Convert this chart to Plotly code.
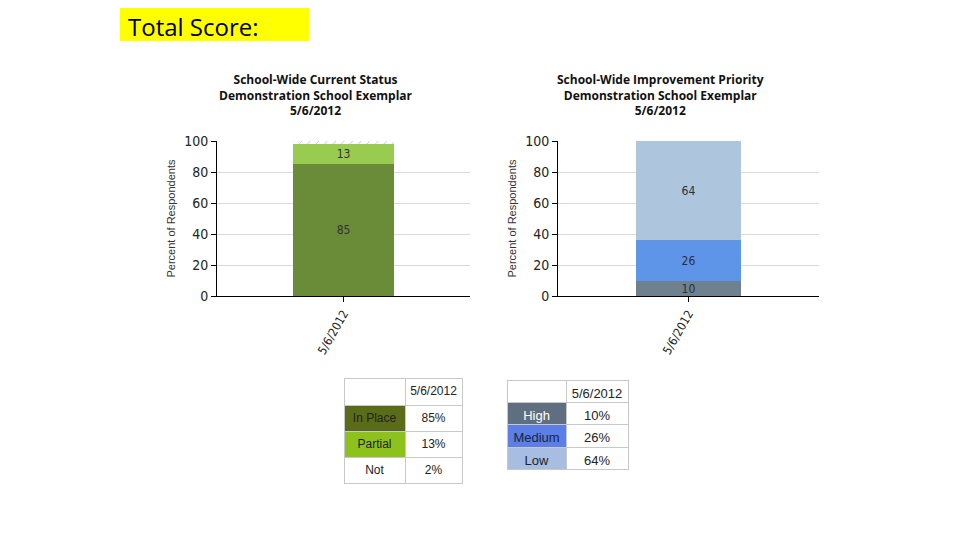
import plotly.graph_objects as go

dates = ["5/6/2012"]

status_labels = ["In Place", "Partial", "Not"]
status_values = [85, 13, 2]

priority_labels = ["High", "Medium", "Low"]
priority_values = [10, 26, 64]

_STATUS_BAR = ["#6a8b37", "#9acb51", "#ffffff"]
_STATUS_CELL = ["#5a6c17", "#8dc21c", "#ffffff"]
_PRIORITY_BAR = ["#6f808f", "#5f95e8", "#adc5dd"]
_PRIORITY_CELL = ["#5f6f80", "#5b7fe6", "#a8bde2"]

_NARROW = "DejaVu Sans Condensed, Liberation Sans Narrow, Arial Narrow, Arial"
_TITLE_FONT = "Open Sans, Noto Sans, sans-serif"

# the page body adds an 8px margin, so positions are shifted back by that much
_OFF = 8


def px(x):
    return (x - _OFF) / 960


def py(y):
    return 1 - (y - _OFF) / 540


fig = go.Figure()

# left chart: current status
for label, val, color in zip(status_labels, status_values, _STATUS_BAR):
    hatched = label == "Not"
    fig.add_trace(go.Bar(
        x=dates,
        y=[val],
        name=label,
        width=0.4,
        marker=dict(
            color=color,
            line=dict(width=0),
            pattern=dict(shape="/", fgcolor="#808080", bgcolor="#ffffff", size=6, solidity=0.15)
            if hatched else None,
        ),
        text=[] if hatched else [str(val)],
        textposition="inside",
        insidetextanchor="middle",
        textangle=0,
        constraintext="none",
        textfont=dict(family=_NARROW, size=12, color="#333333"),
        xaxis="x", yaxis="y",
        showlegend=False,
    ))

# right chart: improvement priority
for label, val, color in zip(priority_labels, priority_values, _PRIORITY_BAR):
    fig.add_trace(go.Bar(
        x=dates,
        y=[val],
        name=label,
        width=0.4,
        marker=dict(color=color, line=dict(width=0)),
        text=[str(val)],
        textposition="inside",
        insidetextanchor="middle",
        textangle=0,
        constraintext="none",
        textfont=dict(family=_NARROW, size=12, color="#2a2f3a"),
        xaxis="x2", yaxis="y2",
        showlegend=False,
    ))

_cell_font = dict(family="Liberation Sans, Arial", size=12, color="#222222")

# summary tables
fig.add_trace(go.Table(
    domain=dict(x=[px(344), px(462)], y=[0, py(378)]),
    columnwidth=[61, 57],
    header=dict(
        values=["", dates[0]],
        fill_color="#ffffff",
        line_color="#c8c8c8",
        font=_cell_font,
        height=27,
        align="center",
    ),
    cells=dict(
        values=[[s.replace(" ", "\u00a0") for s in status_labels],
                [f"{v}%" for v in status_values]],
        fill_color=[_STATUS_CELL, ["#ffffff"] * 3],
        line_color="#c8c8c8",
        font=_cell_font,
        height=26,
        align="center",
    ),
))

fig.add_trace(go.Table(
    domain=dict(x=[px(507), px(628)], y=[0, py(380)]),
    columnwidth=[59, 62],
    header=dict(
        values=["", dates[0]],
        fill_color="#ffffff",
        line_color="#c8c8c8",
        font=dict(_cell_font, size=13),
        height=22,
        align="center",
    ),
    cells=dict(
        values=[priority_labels, [f"{v}%" for v in priority_values]],
        fill_color=[_PRIORITY_CELL, ["#ffffff"] * 3],
        line_color="#c8c8c8",
        font=dict(family="Liberation Sans, Arial", size=13,
                  color=[["#ffffff", "#1a2440", "#222222"], ["#222222"] * 3]),
        height=22.5,
        align="center",
    ),
))

_yaxis = dict(
    range=[0, 100],
    dtick=20,
    showline=True, linecolor="#000000", linewidth=1,
    ticks="outside", ticklen=5, tickcolor="#000000",
    gridcolor="#d9d9d9",
    zeroline=False,
    tickfont=dict(family=_NARROW, size=14, color="#222222"),
    title=dict(text="Percent of Respondents",
               font=dict(family="Liberation Sans, Arial", size=11, color="#333333"),
               standoff=6),
)
_xaxis = dict(
    type="category",
    range=[-0.5, 0.5],
    showline=True, linecolor="#000000", linewidth=1,
    ticks="outside", ticklen=5, tickcolor="#000000",
    tickangle=-60,
    tickfont=dict(family=_NARROW, size=12, color="#222222"),
    showgrid=False,
)

fig.update_layout(
    width=960, height=540,
    margin=dict(l=0, r=0, t=0, b=0, pad=0, autoexpand=False),
    paper_bgcolor="#ffffff",
    plot_bgcolor="#ffffff",
    barmode="stack",
    bargap=0,
    xaxis=dict(_xaxis, domain=[px(217), px(470)], anchor="y"),
    yaxis=dict(_yaxis, domain=[py(296), py(141)], anchor="x"),
    xaxis2=dict(_xaxis, domain=[px(558), px(819)], anchor="y2"),
    yaxis2=dict(_yaxis, domain=[py(296), py(141)], anchor="x2"),
    shapes=[
        dict(type="rect", xref="paper", yref="paper",
             x0=px(120), x1=px(309), y0=py(41), y1=1,
             fillcolor="#ffff00", line=dict(width=0), layer="below"),
    ],
    annotations=[
        dict(text="Total Score:", xref="paper", yref="paper",
             x=px(126), y=1, xanchor="left", yanchor="top",
             showarrow=False, font=dict(family=_TITLE_FONT, size=24, color="#000000")),
        dict(text="<b>School-Wide Current Status<br>Demonstration School Exemplar<br>5/6/2012</b>",
             xref="paper", yref="paper", x=px(316), y=py(95),
             xanchor="center", yanchor="middle", showarrow=False,
             font=dict(family=_TITLE_FONT, size=12, color="#111111")),
        dict(text="<b>School-Wide Improvement Priority<br>Demonstration School Exemplar<br>5/6/2012</b>",
             xref="paper", yref="paper", x=px(660), y=py(95),
             xanchor="center", yanchor="middle", showarrow=False,
             font=dict(family=_TITLE_FONT, size=12, color="#111111")),
    ],
)

fig.write_html("out.html")
